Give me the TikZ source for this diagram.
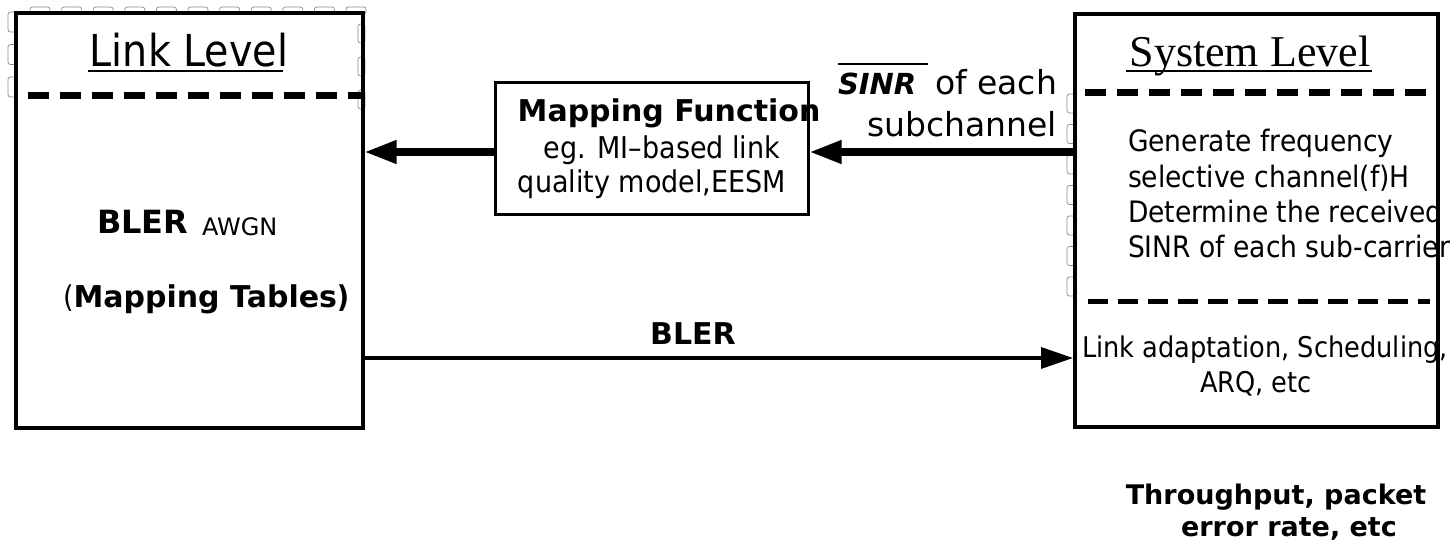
\documentclass[tikz,border=0pt]{standalone}
\usepackage{fontspec}
\usetikzlibrary{arrows.meta}
\setmainfont{DejaVu Sans}
\newfontfamily\rg{DejaVu Sans}[FakeStretch=0.9]
\newfontfamily\bd{DejaVu Sans}
\newfontfamily\sr{Liberation Serif}
\newcommand\fs[1]{\fontsize{#1}{#1}\selectfont}
\begin{document}
\begin{tikzpicture}[x=1pt,y=-1pt,
  frame/.style={draw, line width=#1, inner sep=0pt},
  txt/.style={inner sep=0pt, outer sep=0pt},
  bigarrow/.style={line width=7pt, -{Triangle[length=32pt,width=22pt]}},
  thinarrow/.style={line width=3.5pt, -{Triangle[length=32pt,width=21pt]}},
  dashrule/.style={line width=#1, dash pattern=on 21pt off 11pt},
  uline/.style={line width=1.5pt},
  chip/.style={draw=black!45, line width=0.7pt, rounded corners=2.5pt}]
\useasboundingbox (0,0) rectangle (1456,559);
% faint chip artefacts along the borders
\foreach \i in {0,...,10} \draw[chip] ({30+31.6*\i},7) rectangle ++(20,7);
\foreach \j in {0,1,2} \draw[chip] (8,{12+32.5*\j}) rectangle ++(8,20);
\foreach \j in {0,1,2} \draw[chip] (358,{24+33*\j}) rectangle ++(7,19);
\foreach \j in {0,...,6} \draw[chip] (1067,{94+30.5*\j}) rectangle ++(8,19);
% boxes
\node[frame=4pt, minimum width=346.5pt, minimum height=414pt] (link) at (189.25,220.5) {};
\node[frame=3pt, minimum width=313pt, minimum height=131pt] (map) at (651.5,148.5) {};
\node[frame=4pt, minimum width=363pt, minimum height=413pt] (sys) at (1256.5,220.5) {};
% dashed separators
\draw[dashrule=7pt] (28,96) -- (362,96);
\draw[dashrule=7pt] (1085,93) -- (1434,93);
\draw[dashrule=5pt, dash pattern=on 20pt off 10pt] (1088,301) -- (1430,301);
% titles
\node[txt, anchor=base] (ll) at (189,67) {\rg\fs{44}Link Level};
\draw[uline] (88,71) -- (283,71);
\node[txt, anchor=base] (sl) at (1250,67) {\sr\fs{44}System Level};
\draw[uline] (1126,71) -- (1372,71);
% mapping function
\node[txt, anchor=base] (mf) at (669,122) {\bd\bfseries\fs{30}Mapping Function};
\node[txt, anchor=base] (eg) at (662,158) {\rg\fs{30}eg. MI–based link};
\node[txt, anchor=base] (qm) at (652,192) {\rg\fs{30}quality model,EESM};
% SINR label
\node[txt, anchor=base west] (sinr) at (838,95) {\bd\bfseries\itshape\fs{29}SINR};
\draw[uline] (838,64) -- (928,64);
\node[txt, anchor=base east] (oe) at (1057,95) {\bd\fs{33}of each};
\node[txt, anchor=base east] (sc) at (1057,137) {\bd\fs{33}subchannel};
% system box text
\node[txt, anchor=base west] (g1) at (1128,152) {\rg\fs{29.5}Generate frequency};
\node[txt, anchor=base west] (g2) at (1128,187) {\rg\fs{29.5}selective channel(f)H};
\node[txt, anchor=base west] (g3) at (1128,222) {\rg\fs{29.5}Determine the received};
\node[txt, anchor=base west] (g4) at (1128,257) {\rg\fs{29.5}SINR of each sub-carrier};
\node[txt, anchor=base west] (la) at (1082,357) {\rg\fs{28.5}Link adaptation, Scheduling,};
\node[txt, anchor=base] (arq) at (1256,392) {\rg\fs{28.5}ARQ, etc};
% link box text
\node[txt, anchor=base west] (bl) at (97,233) {\bd\bfseries\fs{32}BLER};
\node[txt, anchor=base west] (aw) at (202,235) {\bd\fs{24}AWGN};
\node[txt, anchor=base west] (mt) at (63,307) {\fs{30}\rg(\bd\bfseries Mapping Tables\rg)};
% arrows
\coordinate (ya) at (0,152);
\coordinate (yb) at (0,358);
\draw[bigarrow] (sys.west |- ya) -- (map.east |- ya);
\draw[bigarrow] (map.west |- ya) -- (link.east |- ya);
\draw[thinarrow] (link.east |- yb) -- (sys.west |- yb);
\node[txt, anchor=base] (blab) at (693,344) {\bd\bfseries\fs{30}BLER};
% result
\node[txt, anchor=base] (tp) at (1276,504) {\bd\bfseries\fs{27}Throughput, packet};
\node[txt, anchor=base] (er) at (1289,536) {\bd\bfseries\fs{27}error rate, etc};
\end{tikzpicture}
\end{document}
